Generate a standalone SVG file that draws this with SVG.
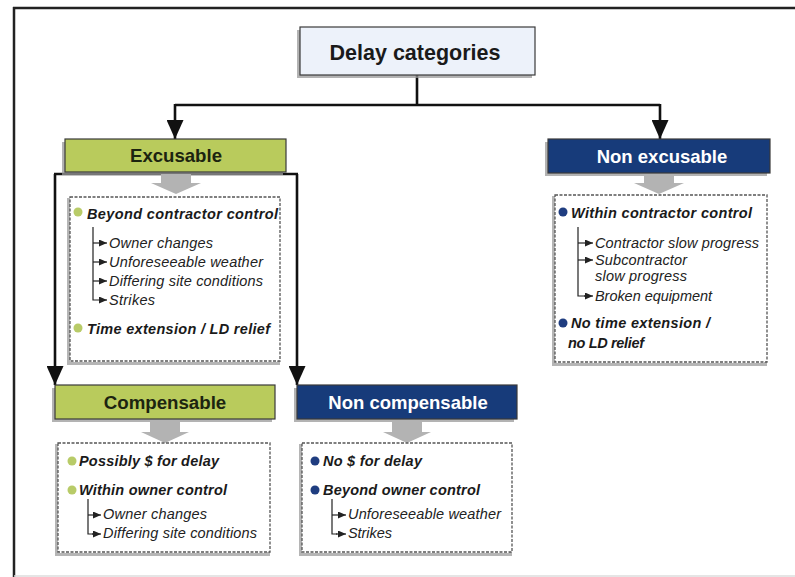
<svg xmlns="http://www.w3.org/2000/svg" width="795" height="577" viewBox="0 0 795 577">
<defs>
<style>
.hdr{stroke:#3a3a3a;stroke-width:1.2}
.shadow{fill:#9a9a9a;opacity:0.75}
.dbox{fill:#fff;stroke:#555;stroke-width:1.3;stroke-dasharray:3 1.5}
.dshadow{fill:none;stroke:#b5b5b5;stroke-width:3}
.garrow{fill:#b3b3b3}
.conn{fill:none;stroke:#111;stroke-width:2.6}
.tree{fill:none;stroke:#222;stroke-width:1.2}
.t-h{font-family:"Liberation Sans",Arial,sans-serif;font-weight:bold;text-anchor:middle}
.bi{font-family:"Liberation Sans",Arial,sans-serif;font-weight:bold;font-style:italic;font-size:14.5px;fill:#1a1a1a}
.it{font-family:"Liberation Sans",Arial,sans-serif;font-style:italic;font-size:14.5px;fill:#222}
.bg{fill:#b8cb68}
.bb{fill:#1f3d80}
</style>
<marker id="big" markerUnits="userSpaceOnUse" markerWidth="19" markerHeight="17" refX="19" refY="8.5" orient="auto" viewBox="0 0 19 17">
<path d="M0,0 L19,8.5 L0,17 Z" fill="#111"/>
</marker>
<marker id="sm" markerUnits="userSpaceOnUse" markerWidth="8" markerHeight="7" refX="8" refY="3.5" orient="auto" viewBox="0 0 8 7">
<path d="M0,0 L8,3.5 L0,7 Z" fill="#222"/>
</marker>
</defs>
<rect x="0" y="0" width="795" height="577" fill="#fff"/>
<g id="frame">
<line x1="13" y1="8" x2="795" y2="8" stroke="#222" stroke-width="2.5"/>
<line x1="14" y1="7" x2="14" y2="577" stroke="#222" stroke-width="2.5"/>
<line x1="14" y1="576" x2="795" y2="576" stroke="#ddd" stroke-width="1.5"/>
</g>
<g id="connectors">
<path class="conn" d="M417,75 V105"/>
<path class="conn" d="M175,105 H660"/>
<path class="conn" d="M175,104 V139" marker-end="url(#big)"/>
<path class="conn" d="M660,104 V139" marker-end="url(#big)"/>
<path class="conn" d="M55,174 V385" marker-end="url(#big)"/>
<path class="conn" d="M54,174 H298"/>
<path class="conn" d="M297,174 V385" marker-end="url(#big)"/>
</g>
<g id="delay-categories">
<rect class="shadow" x="297" y="30" width="235" height="48"/>
<rect class="hdr" x="300" y="27" width="235" height="48" fill="#edf2fa"/>
<text class="t-h" x="415" y="60" font-size="21.5" fill="#1a1a1a">Delay categories</text>
</g>
<g id="excusable">
<rect class="shadow" x="62" y="142" width="221" height="33"/>
<rect class="hdr" x="65" y="139" width="221" height="33" fill="#b9cb5c"/>
<text class="t-h" x="176" y="162" font-size="18.6" fill="#1c2410">Excusable</text>
<path class="garrow" d="M161,174 H191 V183 H201 L176,194 L151,183 H161 Z"/>
<rect class="dshadow" x="68.5" y="199.5" width="210" height="164"/>
<rect class="dbox" x="70" y="197" width="210" height="164"/>
<circle class="bg" cx="78" cy="212" r="4.5"/>
<text class="bi" x="87" y="219" textLength="191" lengthAdjust="spacing">Beyond contractor control</text>
<path class="tree" d="M93,227 V300 H100"/>
<path class="tree" d="M93,243 H107" marker-end="url(#sm)"/>
<path class="tree" d="M93,262 H107" marker-end="url(#sm)"/>
<path class="tree" d="M93,281 H107" marker-end="url(#sm)"/>
<path class="tree" d="M99,300 H107" marker-end="url(#sm)"/>
<text class="it" x="109" y="248" textLength="104" lengthAdjust="spacing">Owner changes</text>
<text class="it" x="109" y="267" textLength="154" lengthAdjust="spacing">Unforeseeable weather</text>
<text class="it" x="109" y="286" textLength="154" lengthAdjust="spacing">Differing site conditions</text>
<text class="it" x="109" y="305" textLength="46" lengthAdjust="spacing">Strikes</text>
<circle class="bg" cx="78" cy="328" r="4.5"/>
<text class="bi" x="87" y="334" textLength="183" lengthAdjust="spacing">Time extension / LD relief</text>
</g>
<g id="non-excusable">
<rect class="shadow" x="545" y="142" width="222" height="34"/>
<rect class="hdr" x="548" y="139" width="222" height="34" fill="#173b7a"/>
<text class="t-h" x="662" y="163" font-size="18.5" fill="#fff">Non excusable</text>
<path class="garrow" d="M644,174 H674 V183 H684 L659,194 L634,183 H644 Z"/>
<rect class="dshadow" x="553.5" y="197.5" width="212" height="167"/>
<rect class="dbox" x="555" y="195" width="212" height="167"/>
<circle class="bb" cx="563" cy="212" r="4.5"/>
<text class="bi" x="571" y="218" textLength="181" lengthAdjust="spacing">Within contractor control</text>
<path class="tree" d="M578,227 V296 H585"/>
<path class="tree" d="M578,243 H593" marker-end="url(#sm)"/>
<path class="tree" d="M578,260 H593" marker-end="url(#sm)"/>
<path class="tree" d="M584,296 H593" marker-end="url(#sm)"/>
<text class="it" x="595" y="248" textLength="164" lengthAdjust="spacing">Contractor slow progress</text>
<text class="it" x="595" y="265" textLength="92" lengthAdjust="spacing">Subcontractor</text>
<text class="it" x="595" y="281" textLength="92" lengthAdjust="spacing">slow progress</text>
<text class="it" x="595" y="301" textLength="117" lengthAdjust="spacing">Broken equipment</text>
<circle class="bb" cx="563" cy="323" r="4.5"/>
<text class="bi" x="571" y="328" textLength="139" lengthAdjust="spacing">No time extension /</text>
<text class="bi" x="568" y="348" textLength="76" lengthAdjust="spacing">no LD relief</text>
</g>
<g id="compensable">
<rect class="shadow" x="52" y="388" width="220" height="34"/>
<rect class="hdr" x="55" y="385" width="220" height="34" fill="#b9cb5c"/>
<text class="t-h" x="165" y="409" font-size="18.7" fill="#1c2410">Compensable</text>
<path class="garrow" d="M150,420 H180 V432 H189 L165,443 L141,432 H150 Z"/>
<rect class="dshadow" x="56.5" y="445.5" width="212" height="109"/>
<rect class="dbox" x="58" y="443" width="212" height="109"/>
<circle class="bg" cx="72" cy="461" r="4.5"/>
<text class="bi" x="79" y="466" textLength="140" lengthAdjust="spacing">Possibly $ for delay</text>
<circle class="bg" cx="72" cy="490" r="4.5"/>
<text class="bi" x="79" y="495" textLength="148" lengthAdjust="spacing">Within owner control</text>
<path class="tree" d="M88,499 V534 H93"/>
<path class="tree" d="M88,515 H101" marker-end="url(#sm)"/>
<path class="tree" d="M92,534 H101" marker-end="url(#sm)"/>
<text class="it" x="103" y="519" textLength="104" lengthAdjust="spacing">Owner changes</text>
<text class="it" x="103" y="538" textLength="154" lengthAdjust="spacing">Differing site conditions</text>
</g>
<g id="non-compensable">
<rect class="shadow" x="294" y="388" width="220" height="34"/>
<rect class="hdr" x="297" y="385" width="220" height="34" fill="#173b7a"/>
<text class="t-h" x="408" y="409" font-size="18.5" fill="#fff">Non compensable</text>
<path class="garrow" d="M392,420 H422 V432 H431 L407,443 L383,432 H392 Z"/>
<rect class="dshadow" x="300.5" y="445.5" width="210" height="109"/>
<rect class="dbox" x="302" y="443" width="210" height="109"/>
<circle class="bb" cx="315" cy="461" r="4.5"/>
<text class="bi" x="323" y="466" textLength="99" lengthAdjust="spacing">No $ for delay</text>
<circle class="bb" cx="315" cy="490" r="4.5"/>
<text class="bi" x="323" y="495" textLength="157" lengthAdjust="spacing">Beyond owner control</text>
<path class="tree" d="M332,499 V534 H337"/>
<path class="tree" d="M332,515 H346" marker-end="url(#sm)"/>
<path class="tree" d="M336,534 H346" marker-end="url(#sm)"/>
<text class="it" x="348" y="519" textLength="153" lengthAdjust="spacing">Unforeseeable weather</text>
<text class="it" x="348" y="538" textLength="44" lengthAdjust="spacing">Strikes</text>
</g>
</svg>
